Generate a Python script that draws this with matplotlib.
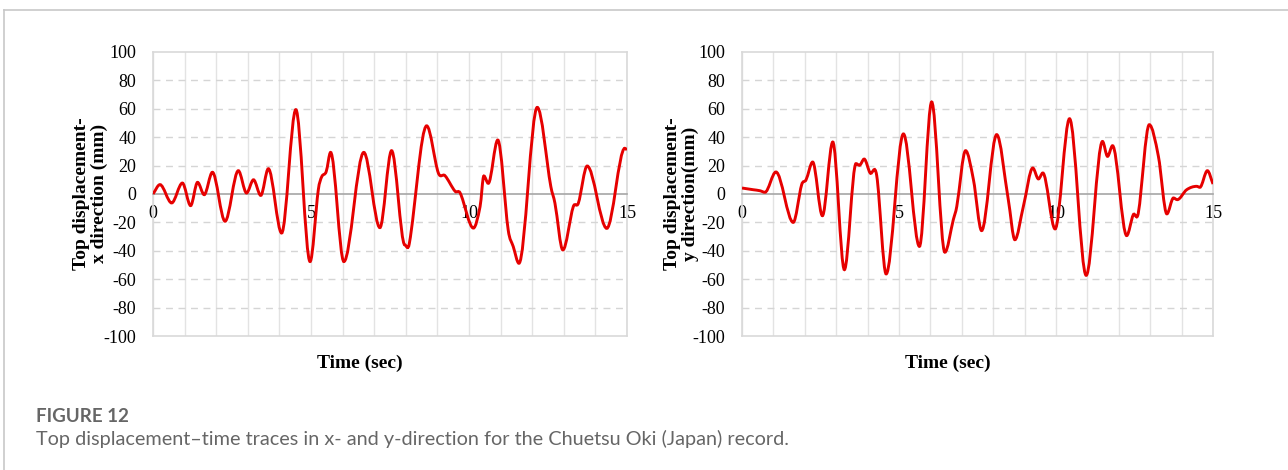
import matplotlib.pyplot as plt
import numpy as np
from matplotlib.lines import Line2D
from matplotlib.patches import PathPatch
from matplotlib.path import Path

# values (time in sec, displacement in mm)
x_time = [0.0, 0.22, 0.59, 0.93, 1.19, 1.41, 1.62, 1.88, 2.28, 2.70, 2.96, 3.18,
          3.41, 3.65, 4.07, 4.52, 4.97, 5.23, 5.34, 5.48, 5.62, 6.04, 6.67, 7.18,
          7.55, 7.97, 8.11, 8.66, 9.03, 9.24, 9.56, 9.72, 10.14, 10.35, 10.47,
          10.61, 10.91, 11.24, 11.40, 11.58, 12.16, 12.59, 12.72, 12.97, 13.30,
          13.46, 13.74, 14.36, 14.93, 15.0]
x_disp = [0.0, 6.6, -6.3, 7.7, -8.2, 8.2, -0.5, 15.3, -19.2, 16.4, 0.7, 10.0,
          -1.0, 17.8, -27.5, 59.4, -47.6, 2.8, 12.2, 15.7, 29.3, -47.6, 29.3,
          -23.7, 30.5, -35.9, -35.0, 48.0, 14.8, 12.9, 1.9, 0.7, -24.0, -8.9,
          12.7, 7.5, 38.0, -25.3, -37.0, -48.8, 61.0, 5.2, -6.5, -39.4, -8.9,
          -6.5, 19.7, -24.2, 32.2, 31.0]

y_time = [0.0, 0.36, 0.57, 0.73, 1.08, 1.63, 1.90, 2.04, 2.25, 2.56, 2.89, 3.26,
          3.63, 3.74, 3.89, 4.08, 4.29, 4.59, 5.14, 5.65, 6.04, 6.46, 6.73, 6.84,
          7.12, 7.37, 7.63, 8.11, 8.48, 8.69, 8.96, 9.26, 9.44, 9.58, 9.97, 10.43,
          10.96, 11.48, 11.64, 11.80, 12.25, 12.46, 12.62, 12.97, 13.26, 13.53,
          13.74, 13.86, 14.16, 14.48, 14.58, 14.82, 15.0]
y_disp = [4.2, 3.0, 2.3, 1.2, 15.5, -20.0, 6.6, 10.0, 22.5, -15.3, 36.6, -53.3,
          21.4, 20.2, 24.6, 14.8, 12.9, -56.3, 42.3, -36.9, 64.8, -41.0, -18.0,
          -8.7, 30.5, 10.0, -25.8, 41.8, -4.0, -32.2, -8.7, 18.3, 10.6, 14.8,
          -24.6, 53.0, -57.3, 37.0, 26.5, 34.0, -29.3, -14.6, -13.4, 48.8, 26.5,
          -14.0, -2.8, -4.0, 3.0, 5.4, 4.7, 16.4, 7.0]

y_ticks = list(range(-100, 101, 20))
x_labels = [0, 5, 10, 15]

plt.rcParams["font.family"] = "Liberation Serif"
plt.rcParams["axes.unicode_minus"] = False


def smooth_path(t, v):
    # smoothed line like the spreadsheet one: cubic Bezier through every point,
    # flat tangents at peaks and troughs
    t = np.asarray(t, float)
    v = np.asarray(v, float)
    n = len(t)
    m = np.zeros(n)
    for i in range(n):
        lo, hi = max(i - 1, 0), min(i + 1, n - 1)
        m[i] = (v[hi] - v[lo]) / (t[hi] - t[lo])
        if 0 < i < n - 1 and (v[i] - v[i - 1]) * (v[i + 1] - v[i]) <= 0:
            m[i] = 0.0
    verts = [(t[0], v[0])]
    codes = [Path.MOVETO]
    for i in range(n - 1):
        d = (t[i + 1] - t[i]) / 3
        verts += [(t[i] + d, v[i] + m[i] * d),
                  (t[i + 1] - d, v[i + 1] - m[i + 1] * d),
                  (t[i + 1], v[i + 1])]
        codes += [Path.CURVE4] * 3
    return Path(verts, codes)


def panel(ax, t, v, ylabel, label_x):
    ax.set_xlim(0, 15)
    ax.set_ylim(-100, 100)
    for s in range(16):
        ax.axvline(s, color="#e3e3e3", lw=1, zorder=0)
    for yv in y_ticks[1:-1]:
        if yv != 0:
            ax.axhline(yv, color="#d5d5d5", lw=1, ls=(0, (5, 4)), zorder=0)
    ax.axhline(-100, color="#d9d9d9", lw=1.2, clip_on=False)
    for side in ["top", "left", "right"]:
        ax.spines[side].set_color("#d9d9d9")
        ax.spines[side].set_linewidth(1.2)
    ax.spines["bottom"].set_position(("data", 0))
    ax.spines["bottom"].set_color("#a6a6a6")
    ax.spines["bottom"].set_linewidth(1.2)

    ax.set_yticks(y_ticks)
    ax.set_xticks(x_labels)
    ax.tick_params(axis="both", length=0, labelsize=13)
    ax.tick_params(axis="y", pad=12)
    ax.tick_params(axis="x", pad=8)

    ax.add_patch(PathPatch(smooth_path(t, v), fill=False, edgecolor="#e60000",
                           lw=2.1, zorder=3))

    ax.text(0.437, -0.095, "Time (sec)", transform=ax.transAxes, ha="center",
            va="center", fontsize=14, fontweight="bold")
    fig.text(label_x, 0.588, ylabel, rotation=90, ha="center", va="center",
             fontsize=14, fontweight="bold", linespacing=1.1)


fig = plt.figure(figsize=(12.88, 4.70), dpi=100)
ax1 = fig.add_axes([0.1188, 0.2851, 0.368, 0.6043])
ax2 = fig.add_axes([0.5761, 0.2851, 0.3657, 0.6043])

panel(ax1, x_time, x_disp, "Top displacement-\nx direction (mm)", 0.0702)
panel(ax2, y_time, y_disp, "Top displacement-\ny direction(mm)", 0.5292)

# page frame and caption
fig.add_artist(Line2D([0.003, 1.0], [0.978, 0.978], color="#c8c8c8", lw=1.2))
fig.add_artist(Line2D([0.003, 0.003], [0.0, 0.978], color="#c8c8c8", lw=1.2))
fig.text(0.028, 0.102, "FIGURE 12", fontsize=13.5, fontweight="bold",
         color="#666666", family="Lato")
fig.text(0.028, 0.053, "Top displacement\u2013time traces in x- and y-direction for "
         "the Chuetsu Oki (Japan) record.", fontsize=14.3, color="#666666",
         family="Lato")

fig.savefig("out.png", dpi=100)
